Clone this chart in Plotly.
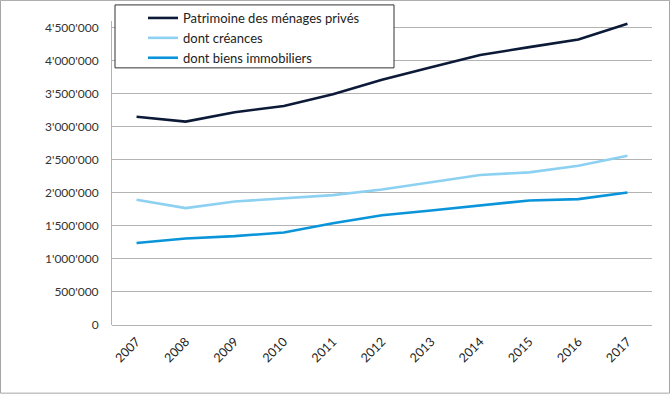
import plotly.graph_objects as go

years = ["2007", "2008", "2009", "2010", "2011", "2012", "2013", "2014", "2015", "2016", "2017"]
patrimoine = [3150000, 3078000, 3220000, 3315000, 3490000, 3710000, 3900000, 4085000, 4205000, 4320000, 4560000]
creances = [1894000, 1769000, 1869000, 1920000, 1965000, 2050000, 2160000, 2270000, 2310000, 2410000, 2560000]
immobiliers = [1240000, 1310000, 1345000, 1400000, 1540000, 1660000, 1733000, 1810000, 1885000, 1905000, 2005000]

names = ["Patrimoine des ménages privés", "dont créances", "dont biens immobiliers"]
colors = ["#0c1a38", "#8dd1f2", "#0a95da"]

W, H = 670, 394
L, R, T, B = 112, 652, 21.1, 325.3

fig = go.Figure()
for name, vals, col in zip(names, [patrimoine, creances, immobiliers], colors):
    fig.add_trace(go.Scatter(x=years, y=vals, name=name, mode="lines",
                             line=dict(color=col, width=2.6)))

def px(x):
    return (x - L) / (R - L)

def py(y):
    return (B - y) / (B - T)

fig.update_layout(
    width=W, height=H,
    margin=dict(l=L, r=W - R, t=T, b=H - B, pad=0, autoexpand=False),
    paper_bgcolor="white", plot_bgcolor="white",
    font=dict(family="Lato, Open Sans, sans-serif", size=12, color="#333333"),
    separators=".'",
    showlegend=True,
    legend=dict(xref="container", yref="container",
                x=143 / W, y=1 - 3 / H, xanchor="left", yanchor="top",
                bgcolor="rgba(0,0,0,0)", borderwidth=0,
                font=dict(size=13, color="#222222"), tracegroupgap=0),
    xaxis=dict(type="category", range=[-0.5, 10.5], showgrid=False,
               showline=False, ticks="", tickangle=-45, automargin=False,
               ticklabelstandoff=6,
               tickfont=dict(size=12.5, color="#222222")),
    yaxis=dict(range=[0, 4600000], tick0=0, dtick=500000, tickformat=",d",
               showgrid=True, gridcolor="#b3b3b3", gridwidth=1,
               showline=True, linecolor="#b3b3b3", linewidth=1,
               zeroline=True, zerolinecolor="#b3b3b3", zerolinewidth=1,
               ticks="", ticklabelstandoff=10, automargin=False,
               tickfont=dict(size=12, color="#333333")),
    shapes=[
        dict(type="rect", xref="paper", yref="paper",
             x0=px(115), x1=px(394), y0=py(68), y1=py(5),
             line=dict(color="#333333", width=1), fillcolor="white", layer="above"),
        dict(type="rect", xref="paper", yref="paper",
             x0=px(0.5), x1=px(669.5), y0=py(393.5), y1=py(0.5),
             line=dict(color="#a6a6a6", width=1)),
    ],
)

fig.write_html("out.html", config={"displayModeBar": False},
               post_script="document.body.style.margin='0px';document.body.style.overflow='hidden';")
